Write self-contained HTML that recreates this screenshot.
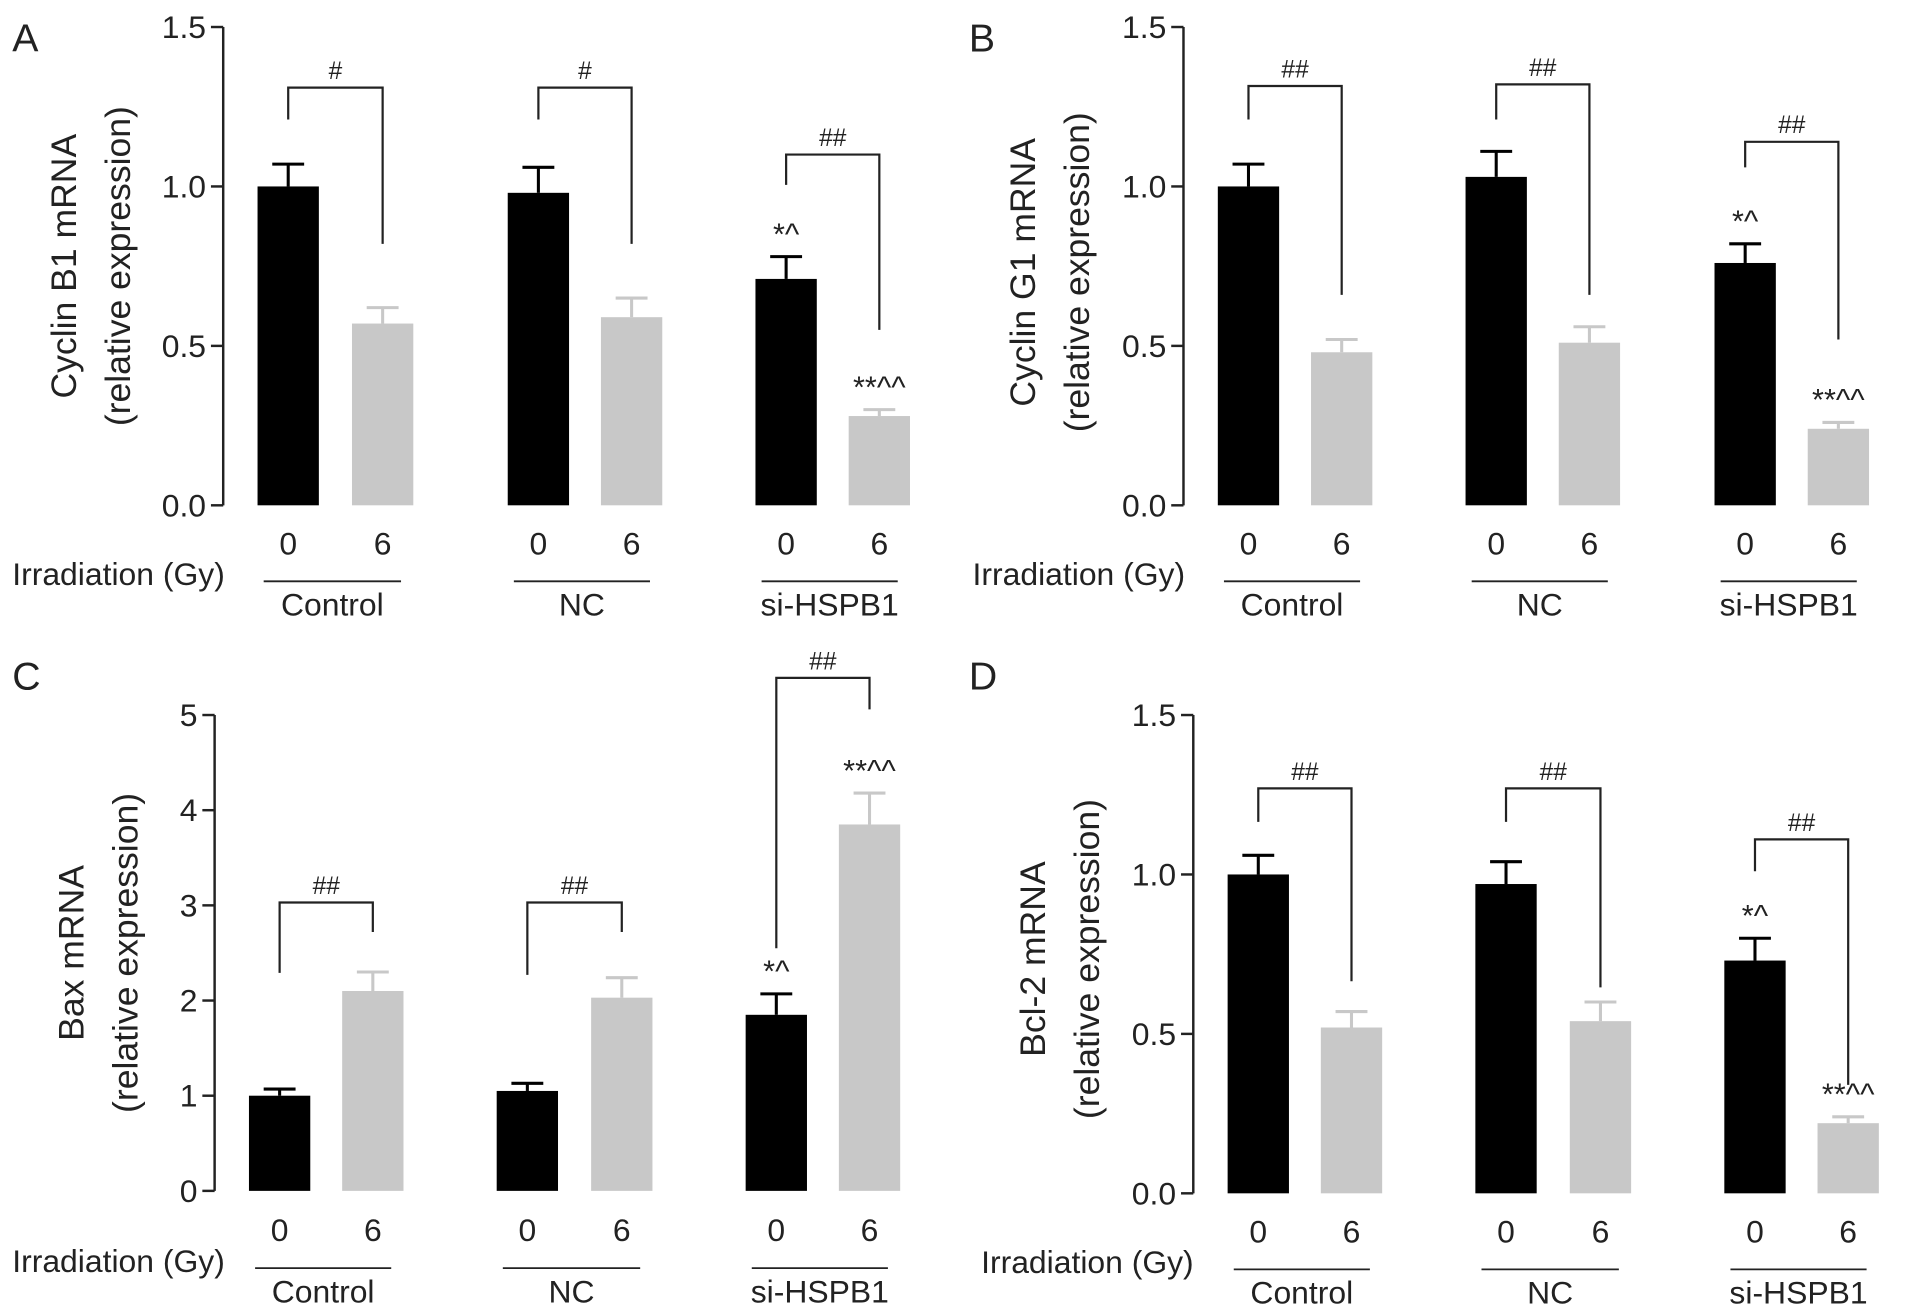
<!DOCTYPE html>
<html><head><meta charset="utf-8"><style>
html,body{margin:0;padding:0;background:#fff}
svg{display:block}
text{font-family:"Liberation Sans",sans-serif;fill:#222}
</style></head><body>
<svg id="fig" width="1923" height="1316" viewBox="0 0 1568 1073" xmlns="http://www.w3.org/2000/svg"></svg>
<script>
// Data
const groups = ["Control","NC","si-HSPB1"];
const doses = ["0","6"];
const aVals = [1.0,0.57,0.98,0.59,0.71,0.28];
const aErr  = [0.07,0.05,0.08,0.06,0.07,0.02];
const bVals = [1.0,0.48,1.03,0.51,0.76,0.24];
const bErr  = [0.07,0.04,0.08,0.05,0.06,0.02];
const cVals = [1.0,2.1,1.05,2.03,1.85,3.85];
const cErr  = [0.07,0.2,0.08,0.21,0.22,0.33];
const dVals = [1.0,0.52,0.97,0.54,0.73,0.22];
const dErr  = [0.06,0.05,0.07,0.06,0.07,0.02];
const aTicks = ["0.0","0.5","1.0","1.5"];
const cTicks = ["0","1","2","3","4","5"];
const aBr = {top:[1.31,1.31,1.10],left:[1.21,1.21,1.005],right:[0.82,0.82,0.55],lab:["#","#","##"]};
const bBr = {top:[1.315,1.32,1.14],left:[1.21,1.21,1.06],right:[0.66,0.66,0.52],lab:["##","##","##"]};
const cBr = {top:[3.03,3.03,5.39],left:[2.29,2.27,2.55],right:[2.72,2.72,5.06],lab:["##","##","##"]};
const dBr = {top:[1.27,1.27,1.11],left:[1.165,1.165,1.01],right:[0.665,0.646,0.34],lab:["##","##","##"]};
const annot = ["","","","","*^","**^^"];

const NS="http://www.w3.org/2000/svg";
const svg=document.getElementById('fig');
function mk(tag,attrs,parent,txt){const e=document.createElementNS(NS,tag);for(const k in attrs)e.setAttribute(k,attrs[k]);if(txt!==undefined)e.textContent=txt;(parent||svg).appendChild(e);return e;}

function panel(o){
  const g=mk('g',{});
  
  
  const y=v=>o.y0-(v/o.max)*(o.y0-o.yTop);
  const L=mk('text',{x:o.lx,y:o.ly,'font-size':32},g,o.letter);
  
  const ax=mk('line',{x1:o.ax,x2:o.ax,y1:o.yTop,y2:o.y0,stroke:'#222','stroke-width':2},g);
  
  o.ticks.forEach((t,i)=>{
    const v=i*o.max/(o.ticks.length-1);
    mk('line',{x1:o.ax-10,x2:o.ax,y1:y(v),y2:y(v),stroke:'#222','stroke-width':2},g);
    const tt=mk('text',{x:o.ax-14,y:y(v)+9,'font-size':26,'text-anchor':'end'},g,t);
    
  });
  const t1=mk('text',{transform:`translate(${o.tx},${o.ty}) rotate(-90)`,'font-size':29,'text-anchor':'middle'},g,o.title);
  
  const t2=mk('text',{transform:`translate(${o.tx+44},${o.ty}) rotate(-90)`,'font-size':29,'text-anchor':'middle'},g,'(relative expression)');
  
  o.vals.forEach((v,i)=>{
    const x=o.bx[i],w=50,cx=x+w/2;
    const r=mk('rect',{x:x,y:y(v),width:w,height:o.y0-y(v),fill:i%2?'#c8c8c8':'#000'},g);
    
    
    const et=y(v+o.err[i]);
    const col=i%2?'#c8c8c8':'#000';
    mk('line',{x1:cx,x2:cx,y1:y(v),y2:et,stroke:col,'stroke-width':2.5},g);
    mk('line',{x1:cx-13,x2:cx+13,y1:et,y2:et,stroke:col,'stroke-width':2.5},g);
    const xl=mk('text',{x:cx,y:o.xly,'font-size':26,'text-anchor':'middle'},g,doses[i%2]);
    
    if(annot[i]){const a=mk('text',{x:cx,y:et-10,'font-size':25,'text-anchor':'middle'},g,annot[i]);
      }
  });
  const ir=mk('text',{x:o.irx,y:o.xly+25,'font-size':26},g,'Irradiation (Gy)');
  
  groups.forEach((gn,k)=>{
    const x1=o.bx[2*k]+5,x2=o.bx[2*k+1]+40;
    mk('line',{x1:x1,x2:x2,y1:o.xly+22,y2:o.xly+22,stroke:'#222','stroke-width':1.5},g);
    const gl=mk('text',{x:(x1+x2)/2,y:o.xly+50,'font-size':26,'text-anchor':'middle'},g,gn);
    
    const cl=o.bx[2*k]+25,cr=o.bx[2*k+1]+25,b=o.br,yt=y(b.top[k]);
    const p=mk('path',{d:`M${cl},${y(b.left[k])}V${yt}H${cr}V${y(b.right[k])}`,fill:'none',stroke:'#222','stroke-width':1.8},g);
    
    const h=mk('text',{x:(cl+cr)/2,y:yt-7,'font-size':20,'text-anchor':'middle'},g,b.lab[k]);
    
  });
}
panel({letter:'A',lx:10,ly:42,ax:182,yTop:22,y0:412,max:1.5,ticks:aTicks,vals:aVals,err:aErr,
  bx:[210,287,414,490,616,692],xly:452,irx:10,tx:62,ty:217,title:'Cyclin B1 mRNA',br:aBr});
panel({letter:'B',lx:790,ly:42,ax:965,yTop:22,y0:412,max:1.5,ticks:aTicks,vals:bVals,err:bErr,
  bx:[993,1069,1195,1271,1398,1474],xly:452,irx:793,tx:844,ty:222,title:'Cyclin G1 mRNA',br:bBr});
panel({letter:'C',lx:10,ly:562,ax:175,yTop:583,y0:971,max:5,ticks:cTicks,vals:cVals,err:cErr,
  bx:[203,279,405,482,608,684],xly:1012,irx:10,tx:68,ty:777,title:'Bax mRNA',br:cBr});
panel({letter:'D',lx:790,ly:562,ax:973,yTop:583,y0:973,max:1.5,ticks:aTicks,vals:dVals,err:dErr,
  bx:[1001,1077,1203,1280,1406,1482],xly:1013,irx:800,tx:852,ty:782,title:'Bcl-2 mRNA',br:dBr});
</script>
</body></html>
